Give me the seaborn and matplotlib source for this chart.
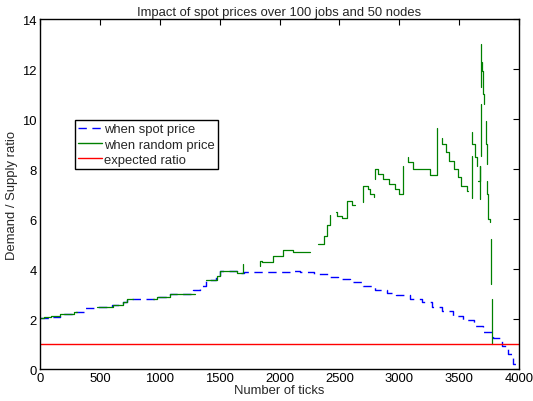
import numpy as np
import pandas as pd
import matplotlib
matplotlib.use("Agg")
import matplotlib.pyplot as plt
from matplotlib.lines import Line2D
import seaborn as sns

# Demand/supply ratio when the spot price mechanism is used (step series)
spot_ticks = [0, 80, 170, 280, 370, 470, 600, 690, 725, 975, 1085, 1275, 1335,
              1390, 1470, 1500, 1645, 1700, 2087, 2170, 2290, 2420, 2490, 2590,
              2700, 2800, 2895, 2975, 3090, 3185, 3270, 3360, 3450, 3535, 3620,
              3700, 3785, 3855, 3910, 3950, 3975]
spot_ratio = [2.03, 2.1, 2.2, 2.28, 2.43, 2.47, 2.57, 2.67, 2.8, 2.89, 3.0, 3.16,
              3.33, 3.56, 3.73, 3.91, 3.84, 3.87, 3.93, 3.87, 3.8, 3.7, 3.6, 3.47,
              3.31, 3.17, 3.03, 2.96, 2.8, 2.67, 2.49, 2.33, 2.13, 1.95, 1.73,
              1.5, 1.23, 0.93, 0.6, 0.2, 0.0]

# Demand/supply ratio with random prices, recorded as separate step segments
random_ticks = [
    [0, 30, 90, 170, 280, 310],
    [473, 610, 694, 725, 780],
    [945, 978, 1085, 1290],
    [1390, 1475, 1502, 1642, 1697, 1697],
    [1836, 1836, 1850, 1948, 2031, 2114, 2254],
    [2323, 2371, 2399, 2421, 2421],
    [2471, 2482, 2518, 2565, 2601, 2629],
    [2693, 2693, 2741, 2755, 2791, 2791],
    [2796, 2796, 2824, 2861, 2916, 2963, 2999, 3028, 3028],
    [3069, 3069, 3116, 3255, 3311, 3311],
    [3358, 3358, 3386, 3414, 3456, 3492, 3512, 3567, 3575],
    [3609, 3609],
    [3609, 3609, 3631, 3631, 3650, 3650],
    [3659, 3673, 3673],
    [3679, 3679],
    [3679, 3679],
    [3687, 3687, 3695, 3695, 3706, 3706],
    [3720, 3720, 3729, 3729],
    [3734, 3734, 3742, 3742, 3756, 3756],
    [3762, 3762],
    [3770, 3770],
]
random_ratio = [
    [2.03, 2.08, 2.13, 2.2, 2.28, 2.28],
    [2.47, 2.57, 2.67, 2.8, 2.8],
    [2.8, 2.89, 3.0, 3.0],
    [3.56, 3.73, 3.91, 3.84, 3.84, 4.2],
    [4.13, 4.33, 4.29, 4.53, 4.76, 4.67, 4.67],
    [5.0, 5.33, 5.77, 5.77, 6.16],
    [6.27, 6.13, 6.03, 6.71, 6.56, 6.56],
    [6.67, 7.31, 7.2, 7.0, 7.0, 6.87],
    [7.6, 8.0, 7.8, 7.6, 7.4, 7.2, 7.0, 7.0, 8.13],
    [8.47, 8.27, 8.0, 7.76, 7.76, 9.63],
    [9.23, 9.0, 8.67, 8.33, 8.0, 7.67, 7.33, 7.13, 7.13],
    [8.53, 6.83],
    [9.49, 9.0, 9.0, 8.47, 8.47, 8.13],
    [7.53, 8.13, 6.8],
    [13.0, 11.27],
    [10.6, 8.53],
    [12.28, 11.93, 11.93, 11.0, 11.0, 10.6],
    [9.93, 9.0, 9.0, 8.2],
    [7.53, 7.0, 7.0, 6.0, 6.0, 5.87],
    [5.2, 3.4],
    [2.8, 1.0],
]

expected_ticks = [0, 4000]
expected_ratio = [1.0, 1.0]

x_ticks = [0, 500, 1000, 1500, 2000, 2500, 3000, 3500, 4000]
y_ticks = [0, 2, 4, 6, 8, 10, 12, 14]

sns.set_style("white")
plt.rcParams["font.family"] = ["Liberation Sans", "DejaVu Sans"]
FS = 9.4
DASH = (0, (6.0, 4.0))

fig = plt.figure(figsize=(5.33, 4.02), dpi=100)
ax = fig.add_axes([0.075, 0.0796, 0.899, 0.8706])

spot_df = pd.DataFrame({"tick": spot_ticks, "ratio": spot_ratio})
rand_df = pd.concat(
    [pd.DataFrame({"tick": t, "ratio": r, "seg": i})
     for i, (t, r) in enumerate(zip(random_ticks, random_ratio))],
    ignore_index=True,
)
exp_df = pd.DataFrame({"tick": expected_ticks, "ratio": expected_ratio})

sns.lineplot(data=spot_df, x="tick", y="ratio", ax=ax, color="#0000ff",
             linewidth=1.0, drawstyle="steps-post", sort=False, estimator=None)
ax.lines[-1].set_linestyle(DASH)

sns.lineplot(data=rand_df, x="tick", y="ratio", units="seg", estimator=None,
             sort=False, ax=ax, color="#008000", linewidth=0.9,
             drawstyle="steps-post")
sns.lineplot(data=exp_df, x="tick", y="ratio", ax=ax, color="#ff0000",
             linewidth=1.0, sort=False, estimator=None)

ax.set_xlim(0, 4000)
ax.set_ylim(0, 14)
ax.set_xticks(x_ticks)
ax.set_yticks(y_ticks)
ax.tick_params(axis="both", direction="in", length=4, width=0.8,
               top=True, right=True, labelsize=FS, pad=2.5, colors="black")
for s in ax.spines.values():
    s.set_color("black")
    s.set_linewidth(1.0)

ax.set_title("Impact of spot prices over 100 jobs and 50 nodes", fontsize=FS, pad=3)
ax.set_xlabel("Number of ticks", fontsize=FS, labelpad=0)
ax.set_ylabel("Demand / Supply ratio", fontsize=FS, labelpad=3)

handles = [
    Line2D([], [], color="#0000ff", linewidth=1.0, linestyle=DASH),
    Line2D([], [], color="#008000", linewidth=1.0),
    Line2D([], [], color="#ff0000", linewidth=1.0),
]
labels = ["when spot price", "when random price", "expected ratio"]
leg = ax.legend(handles, labels, loc="upper left", bbox_to_anchor=(0.073, 0.712),
                fontsize=FS, frameon=True, fancybox=False, framealpha=1,
                edgecolor="black", handlelength=1.8, handletextpad=0.15,
                borderpad=0.25, labelspacing=0.25, borderaxespad=0)
leg.get_frame().set_linewidth(1.0)

fig.savefig("out.png", dpi=100)
